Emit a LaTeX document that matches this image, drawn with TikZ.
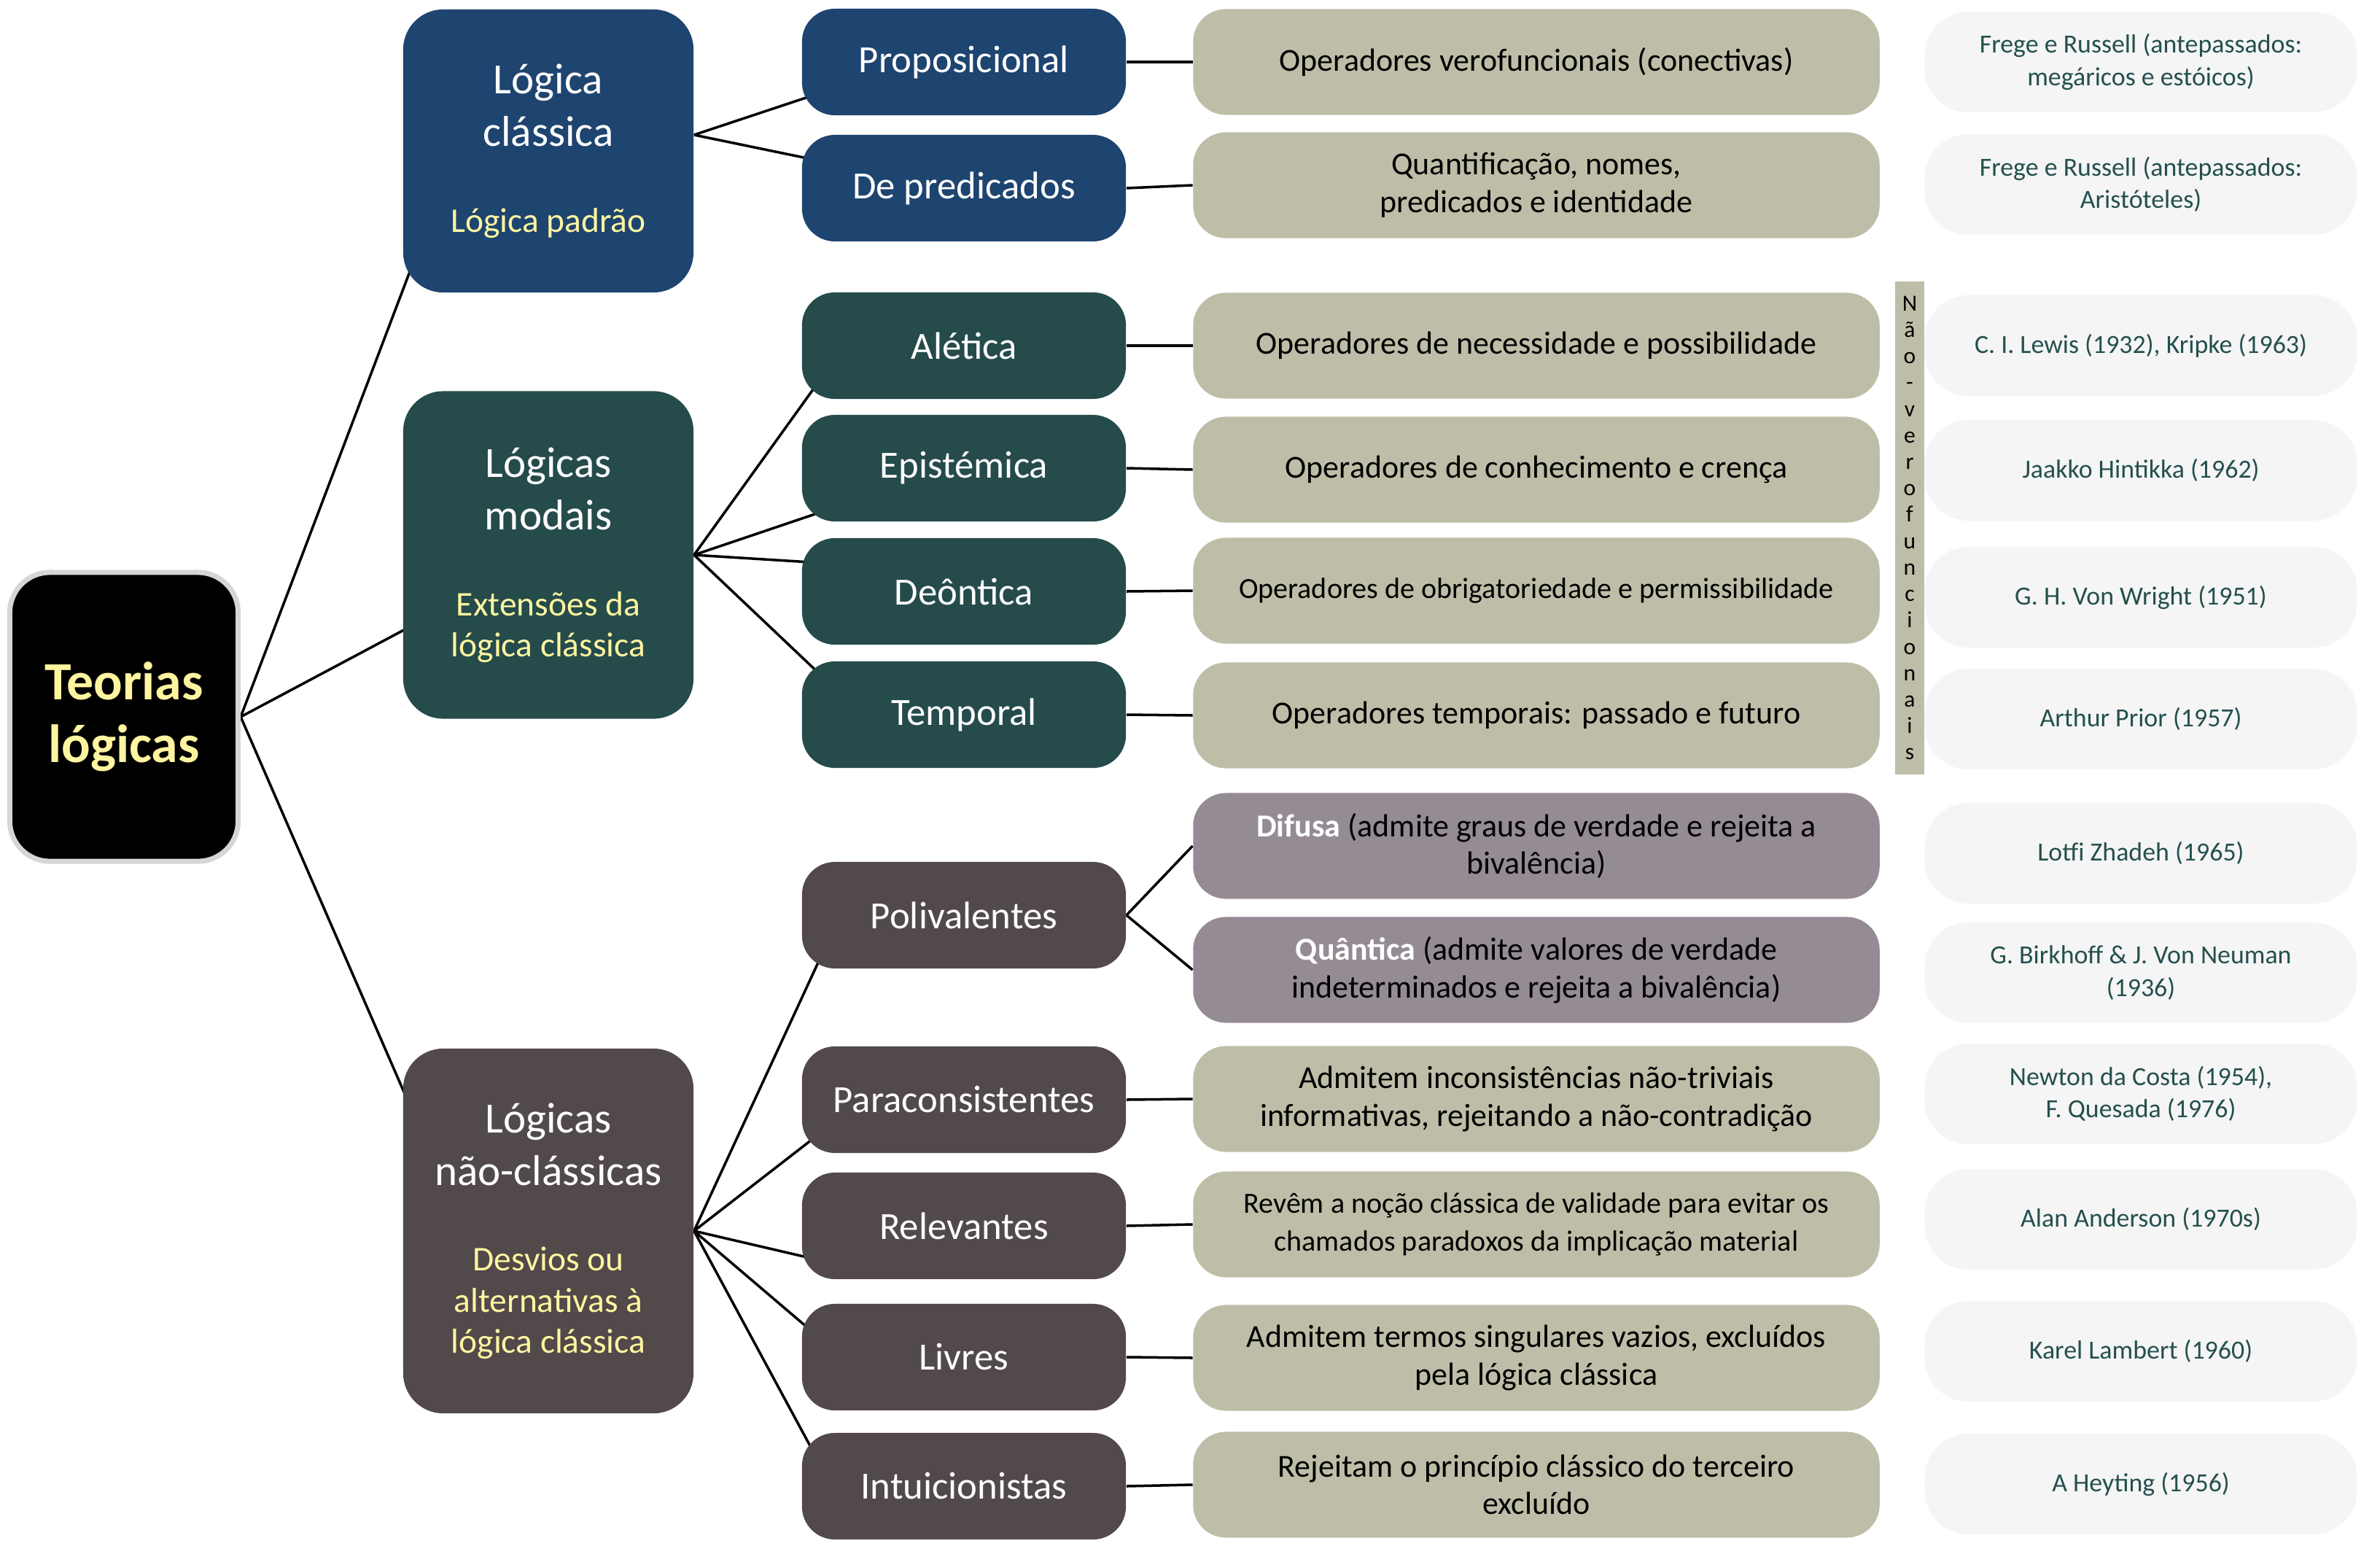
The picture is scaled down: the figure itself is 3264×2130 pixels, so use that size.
\documentclass[tikz,border=0pt]{standalone}
\usepackage{fontspec}
\setmainfont{Carlito}
\usepackage{xcolor}
\usepackage{tikz}
\usetikzlibrary{positioning, backgrounds}

\definecolor{rootgray}{RGB}{214,214,214}
\definecolor{paleyellow}{RGB}{255,245,160}
\definecolor{classblue}{RGB}{30,68,112}
\definecolor{modalteal}{RGB}{37,75,75}
\definecolor{nonclassbrown}{RGB}{82,73,75}
\definecolor{featkhaki}{RGB}{190,190,168}
\definecolor{fuzzymauve}{RGB}{148,139,148}
\definecolor{authorgray}{RGB}{245,245,245}
\definecolor{authorteal}{RGB}{36,80,78}

\newcommand{\lognote}[1]{{\color{paleyellow}\fontsize{13.5}{16}\selectfont #1}}

\begin{document}
\begin{tikzpicture}
	[
		x=0.01cm, y=-0.01cm,
		root/.style={draw=rootgray, line width=0.07cm, fill=black, rounded corners=0.55cm, minimum width=3.13cm, minimum height=3.96cm, text=paleyellow, font=\bfseries\fontsize{21}{24.5}\selectfont, align=center},
		family/.style={fill=#1, rounded corners=0.55cm, minimum width=3.98cm, text=white, font=\fontsize{16.8}{20.5}\selectfont, align=center},
		branch/.style={fill=#1, rounded corners=0.45cm, minimum width=4.44cm, minimum height=1.46cm, text=white, font=\fontsize{15}{18}\selectfont},
		feature/.style={fill=featkhaki, rounded corners=0.45cm, minimum width=9.41cm, minimum height=1.45cm, font=\fontsize{12.5}{14.7}\selectfont, align=center},
		author/.style={fill=authorgray, rounded corners=0.6cm, minimum width=5.93cm, minimum height=1.38cm, text=authorteal, font=\fontsize{10.2}{12.6}\selectfont, align=center},
		bar/.style={fill=featkhaki, minimum width=0.4cm, minimum height=6.76cm, inner sep=0pt, text=black, font=\fontsize{9}{10.3}\selectfont, align=center},
		link/.style={line width=1pt}
	]
		\useasboundingbox (0,0) rectangle (3264,2130);

		% root and the three families
		\node[root] (teorias) at (170,983) {Teorias\\lógicas};
		\node[family=classblue, minimum height=3.88cm] (classica) at (752,207) {Lógica\\clássica\\[13pt]\lognote{Lógica padrão}};
		\node[family=modalteal, minimum height=4.49cm] (modais) at (752,761) {Lógicas\\modais\\[13pt]\lognote{Extensões da}\\[-4.5pt]\lognote{lógica clássica}};
		\node[family=nonclassbrown, minimum height=5cm] (naoclass) at (752,1688) {Lógicas\\não-clássicas\\[13pt]\lognote{Desvios ou}\\[-4.5pt]\lognote{alternativas à}\\[-4.5pt]\lognote{lógica clássica}};

		% branches
		\node[branch=classblue] (prop) at (1322,85) {Proposicional};
		\node[branch=classblue] (pred) at (1322,258) {De predicados};
		\node[branch=modalteal] (alet) at (1322,474) {Alética};
		\node[branch=modalteal] (epis) at (1322,642) {Epistémica};
		\node[branch=modalteal] (deon) at (1322,811) {Deôntica};
		\node[branch=modalteal] (temp) at (1322,980) {Temporal};
		\node[branch=nonclassbrown] (poli) at (1322,1255) {Polivalentes};
		\node[branch=nonclassbrown] (parac) at (1322,1508) {Paraconsistentes};
		\node[branch=nonclassbrown] (rele) at (1322,1681) {Relevantes};
		\node[branch=nonclassbrown] (livr) at (1322,1861) {Livres};
		\node[branch=nonclassbrown] (intu) at (1322,2038) {Intuicionistas};

		% features
		\node[feature] (opver) at (2107,85) {Operadores verofuncionais (conectivas)};
		\node[feature] (quant) at (2107,254) {Quantificação, nomes,\\predicados e identidade};
		\node[feature] (neces) at (2107,474) {Operadores de necessidade e possibilidade};
		\node[feature] (conhec) at (2107,644) {Operadores de conhecimento e crença};
		\node[feature, font=\fontsize{11.4}{14.7}\selectfont] (obrig) at (2107,810) {Operadores de obrigatoriedade e permissibilidade};
		\node[feature] (tempo) at (2107,981) {Operadores temporais: passado e futuro};
		\node[feature, fill=fuzzymauve] (difusa) at (2107,1160) {{\bfseries\color{white}Difusa} (admite graus de verdade e rejeita a\\bivalência)};
		\node[feature, fill=fuzzymauve] (quantica) at (2107,1330) {{\bfseries\color{white}Quântica} (admite valores de verdade\\indeterminados e rejeita a bivalência)};
		\node[feature] (incons) at (2107,1507) {Admitem inconsistências não-triviais\\informativas, rejeitando a não-contradição};
		\node[feature, font=\fontsize{11.4}{14.7}\selectfont] (valid) at (2107,1679) {Revêm a noção clássica de validade para evitar os\\chamados paradoxos da implicação material};
		\node[feature] (vazios) at (2107,1862) {Admitem termos singulares vazios, excluídos\\pela lógica clássica};
		\node[feature] (terceiro) at (2107,2036) {Rejeitam o princípio clássico do terceiro\\excluído};

		\node[bar] (naover) at (2619,724) {N\\ã\\o\\-\\v\\e\\r\\o\\f\\u\\n\\c\\i\\o\\n\\a\\i\\s};

		% authors
		\node[author] (frege1) at (2936,85) {Frege e Russell (antepassados:\\megáricos e estóicos)};
		\node[author] (frege2) at (2936,253) {Frege e Russell (antepassados:\\Aristóteles)};
		\node[author] (lewis) at (2936,474) {C. I. Lewis (1932), Kripke (1963)};
		\node[author] (hintikka) at (2936,645) {Jaakko Hintikka (1962)};
		\node[author] (wright) at (2936,819) {G. H. Von Wright (1951)};
		\node[author] (prior) at (2936,986) {Arthur Prior (1957)};
		\node[author] (zadeh) at (2936,1170) {Lotfi Zhadeh (1965)};
		\node[author] (birkhoff) at (2936,1334) {G. Birkhoff \& J. Von Neuman\\(1936)};
		\node[author] (costa) at (2936,1500) {Newton da Costa (1954),\\F. Quesada (1976)};
		\node[author] (anderson) at (2936,1672) {Alan Anderson (1970s)};
		\node[author] (lambert) at (2936,1853) {Karel Lambert (1960)};
		\node[author] (heyting) at (2936,2035) {A Heyting (1956)};

		% connectors
		\begin{scope}[on background layer]
			\draw[link] (teorias.east) -- ([xshift=0.12cm,yshift=0.35cm]classica.south west);
			\draw[link] (teorias.east) -- ([xshift=0.07cm,yshift=-1.0cm]modais.west);
			\draw[link] (teorias.east) -- ([xshift=0.03cm,yshift=-0.63cm]naoclass.north west);

			\draw[link] ([yshift=0.22cm]classica.east) -- ([xshift=0.16cm,yshift=0.28cm]prop.south west);
			\draw[link] ([yshift=0.22cm]classica.east) -- ([xshift=0.14cm,yshift=-0.34cm]pred.north west);
			\draw[link] (modais.east) -- ([xshift=0.24cm,yshift=0.25cm]alet.south west);
			\draw[link] (modais.east) -- ([xshift=0.34cm,yshift=0.16cm]epis.south west);
			\draw[link] (modais.east) -- ([xshift=0.17cm,yshift=-0.34cm]deon.north west);
			\draw[link] (modais.east) -- ([xshift=0.27cm,yshift=-0.2cm]temp.north west);
			\draw[link] (naoclass.east) -- ([xshift=0.28cm,yshift=0.2cm]poli.south west);
			\draw[link] (naoclass.east) -- ([xshift=0.22cm,yshift=0.25cm]parac.south west);
			\draw[link] (naoclass.east) -- ([xshift=0.19cm,yshift=0.28cm]rele.south west);
			\draw[link] (naoclass.east) -- ([xshift=0.15cm,yshift=-0.39cm]livr.north west);
			\draw[link] (naoclass.east) -- ([xshift=0.17cm,yshift=-0.28cm]intu.north west);

			\draw[link] (prop.east) -- (opver.west);
			\draw[link] (pred.east) -- (quant.west);
			\draw[link] (alet.east) -- (neces.west);
			\draw[link] (epis.east) -- (conhec.west);
			\draw[link] (deon.east) -- (obrig.west);
			\draw[link] (temp.east) -- (tempo.west);
			\draw[link] (poli.east) -- (difusa.west);
			\draw[link] (poli.east) -- (quantica.west);
			\draw[link] (parac.east) -- (incons.west);
			\draw[link] (rele.east) -- (valid.west);
			\draw[link] (livr.east) -- (vazios.west);
			\draw[link] (intu.east) -- (terceiro.west);
		\end{scope}
\end{tikzpicture}
\end{document}
